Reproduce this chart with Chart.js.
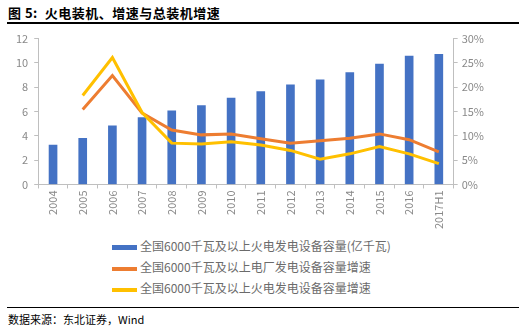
<!DOCTYPE html>
<html>
<head>
<meta charset="utf-8">
<script src="https://cdn.jsdelivr.net/npm/chart.js@4/dist/chart.umd.min.js"></script>
<style>
  body { margin: 0; background: #fff; width: 525px; height: 330px; position: relative; overflow: hidden; font-family: "Noto Sans CJK SC", sans-serif; }
  #title { position: absolute; left: 8px; top: 3px; font-size: 13px; font-weight: bold; color: #000; letter-spacing: 0.5px; }
  #rule-top { position: absolute; left: 7px; right: 6px; top: 22px; height: 2px; background: #000; }
  #wrap { position: absolute; left: 0; top: 26px; width: 525px; height: 205px; }
  #legend { position: absolute; left: 112px; top: 235px; font-size: 12px; color: #6b6b6b; }
  .item { height: 21px; line-height: 21px; white-space: nowrap; }
  .swatch { display: inline-block; width: 25px; height: 4px; vertical-align: middle; margin-right: 3px; }
  #rule-bottom { position: absolute; left: 7px; right: 6px; top: 307px; height: 1px; background: #000; }
  #source { position: absolute; left: 8px; top: 311px; font-size: 11px; color: #000; }
</style>
</head>
<body>
<div id="title">图 5:&nbsp;&nbsp;火电装机、增速与总装机增速</div>
<div id="rule-top"></div>
<div id="wrap"><canvas id="chart" width="525" height="205"></canvas></div>
<div id="legend"></div>
<div id="rule-bottom"></div>
<div id="source">数据来源：东北证券，Wind</div>
<script>
// 全国6000千瓦及以上装机（亿千瓦）及增速（%）
var years = ['2004', '2005', '2006', '2007', '2008', '2009', '2010', '2011', '2012', '2013', '2014', '2015', '2016', '2017H1'];
var thermalCapacity = [3.25, 3.8, 4.83, 5.5, 6.05, 6.5, 7.1, 7.65, 8.2, 8.6, 9.2, 9.9, 10.57, 10.7];
var totalGrowth = [null, 15.4, 22.4, 14.7, 11.2, 10.2, 10.4, 9.4, 8.5, 9.0, 9.5, 10.4, 9.2, 6.7];
var thermalGrowth = [null, 18.3, 26.1, 14.8, 8.5, 8.3, 8.8, 8.1, 7.0, 5.2, 6.3, 7.8, 6.3, 4.3];

var leftTicks = [0, 2, 4, 6, 8, 10, 12];
var rightTicks = [0, 5, 10, 15, 20, 25, 30];

var tickColor = '#898989';
var axisColor = '#bfbfbf';

var ctx = document.getElementById('chart').getContext('2d');
var chart = new Chart(ctx, {
  data: {
    labels: years,
    datasets: [
      {
        type: 'line',
        label: '全国6000千瓦及以上电厂发电设备容量增速',
        data: totalGrowth,
        yAxisID: 'y1',
        borderColor: '#ED7D31',
        backgroundColor: '#ED7D31',
        borderWidth: 3,
        pointRadius: 0,
        tension: 0,
        order: 1
      },
      {
        type: 'line',
        label: '全国6000千瓦及以上火电发电设备容量增速',
        data: thermalGrowth,
        yAxisID: 'y1',
        borderColor: '#FFC000',
        backgroundColor: '#FFC000',
        borderWidth: 3,
        pointRadius: 0,
        tension: 0,
        order: 0
      },
      {
        type: 'bar',
        label: '全国6000千瓦及以上火电发电设备容量(亿千瓦)',
        data: thermalCapacity,
        yAxisID: 'y',
        backgroundColor: '#4472C4',
        barThickness: 8,
        order: 2
      }
    ]
  },
  options: {
    responsive: false,
    animation: false,
    layout: { padding: { left: 10, right: 37, top: 6, bottom: 0 } },
    plugins: {
      legend: { display: false },
      tooltip: { enabled: false }
    },
    scales: {
      x: {
        offset: true,
        grid: { display: true, drawOnChartArea: false, offset: true, color: axisColor, tickLength: 4 },
        border: { color: axisColor },
        ticks: { color: tickColor, font: { size: 11, family: 'Noto Sans CJK SC' }, maxRotation: 90, minRotation: 90, padding: 2 }
      },
      y: {
        position: 'left',
        min: 0,
        max: 12,
        afterBuildTicks: function(axis) { axis.ticks = leftTicks.map(function(v) { return { value: v }; }); },
        grid: { display: true, drawOnChartArea: false, color: axisColor, tickLength: 4 },
        border: { color: axisColor },
        ticks: { color: tickColor, font: { size: 11, family: 'Noto Sans CJK SC' }, padding: 6 }
      },
      y1: {
        position: 'right',
        min: 0,
        max: 30,
        afterBuildTicks: function(axis) { axis.ticks = rightTicks.map(function(v) { return { value: v }; }); },
        grid: { display: true, drawOnChartArea: false, color: axisColor, tickLength: 4 },
        border: { color: axisColor },
        ticks: {
          color: tickColor,
          font: { size: 11, family: 'Noto Sans CJK SC' },
          padding: 4,
          callback: function(v) { return v + '%'; }
        }
      }
    }
  }
});

// bar first, then the two growth lines
var legendOrder = [2, 0, 1];
var legend = document.getElementById('legend');
legendOrder.forEach(function(i) {
  var ds = chart.data.datasets[i];
  var row = document.createElement('div');
  row.className = 'item';
  var sw = document.createElement('span');
  sw.className = 'swatch';
  sw.style.background = ds.type === 'bar' ? ds.backgroundColor : ds.borderColor;
  if (ds.type === 'bar') sw.style.height = '5px';
  row.appendChild(sw);
  row.appendChild(document.createTextNode(ds.label));
  legend.appendChild(row);
});
</script>
</body>
</html>
